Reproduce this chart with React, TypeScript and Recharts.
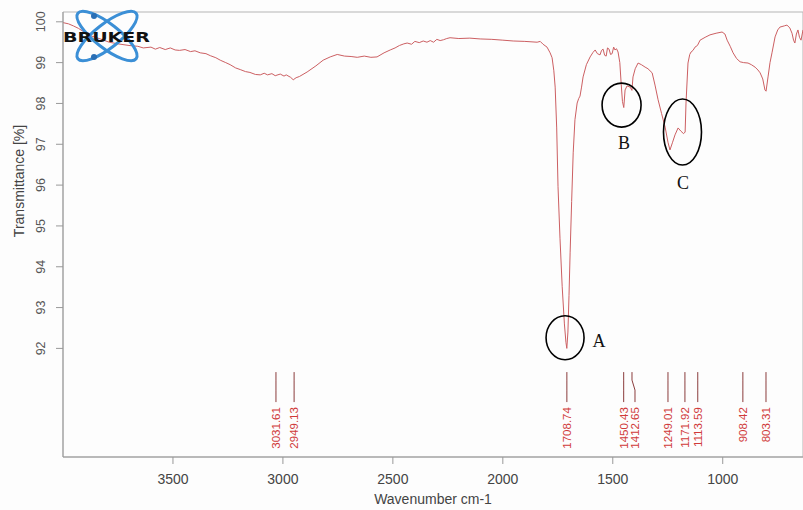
import React from 'react';
import { ComposedChart, Line, Scatter, XAxis, YAxis, ReferenceArea, ReferenceDot } from 'recharts';

// ---- data ----
const wavenumbers = [
  4000, 3975, 3953, 3930, 3907, 3870, 3830, 3790, 3750, 3700, 3660, 3635, 3600, 3580, 3560, 3535, 3512, 3490, 3470, 3445, 3420, 3400, 3376,
  3350, 3330, 3305, 3285, 3260, 3240, 3215, 3194, 3170, 3150, 3125, 3103, 3085, 3070, 3050, 3035, 3012, 2995, 2985, 2965, 2953, 2940, 2925, 2890, 2850, 2817, 2785, 2753, 2720,
  2690, 2662, 2630, 2600, 2572, 2540, 2512, 2490, 2470, 2450, 2435, 2415, 2400, 2380, 2362, 2345, 2330, 2315, 2300, 2285, 2270, 2255, 2240, 2200, 2150, 2103,
  2050, 2000, 1953, 1900, 1844, 1830, 1817, 1799, 1785, 1776, 1768, 1762, 1755, 1749, 1740, 1730, 1720, 1713, 1709,
  1704, 1699, 1694, 1687, 1680, 1672, 1662, 1655, 1649, 1642, 1635, 1620, 1603, 1590, 1580, 1570, 1558, 1551,
  1544, 1537, 1530, 1524, 1517, 1510, 1503, 1496, 1490, 1483, 1476, 1468, 1462, 1456, 1450, 1444, 1435, 1421,
  1413, 1408, 1398, 1385, 1370, 1353, 1340, 1321, 1308, 1294, 1278, 1262, 1249, 1240, 1228, 1217, 1203, 1190,
  1178, 1171, 1167, 1158, 1150, 1144, 1135, 1126, 1115, 1103, 1080, 1058, 1030, 1003, 990, 980, 966, 953, 937,
  921, 905, 885, 870, 853, 840, 830, 818, 808, 803, 794, 785, 776, 762, 750, 740, 720, 708, 695, 685, 678, 672,
  665, 658, 651, 644, 635,
];
const transmittance = [
  99.98, 99.95, 99.9, 99.84, 99.76, 99.65, 99.58, 99.5, 99.46, 99.42, 99.4, 99.36, 99.38, 99.33, 99.37, 99.32, 99.36, 99.31, 99.3, 99.32, 99.27, 99.29, 99.24,
  99.22, 99.17, 99.12, 99.06, 99.0, 98.95, 98.87, 98.83, 98.78, 98.76, 98.71, 98.7, 98.74, 98.7, 98.73, 98.68, 98.72, 98.67, 98.7, 98.64, 98.58, 98.63, 98.66, 98.77, 98.92, 99.06, 99.14, 99.2, 99.16,
  99.15, 99.13, 99.16, 99.13, 99.14, 99.24, 99.31, 99.36, 99.42, 99.46, 99.48, 99.45, 99.52, 99.49, 99.53, 99.5, 99.54, 99.5, 99.57, 99.54, 99.56, 99.59, 99.61, 99.59, 99.6, 99.58,
  99.57, 99.55, 99.53, 99.52, 99.5, 99.52, 99.45, 99.38, 99.24, 99.12, 98.8, 98.4, 97.4, 95.96, 94.7, 93.51, 92.6, 92.15, 92.0,
  92.4, 93.3, 94.34, 95.6, 96.79, 97.6, 98.01, 98.12, 98.18, 98.4, 98.65, 98.95, 99.14, 99.25, 99.31, 99.22, 99.19, 99.3,
  99.33, 99.18, 99.16, 99.36, 99.33, 99.2, 99.22, 99.38, 99.31, 99.34, 99.26, 99.0, 98.5, 98.05, 97.9, 98.33, 98.43, 98.4,
  98.32, 98.65, 98.85, 98.99, 98.95, 98.89, 98.85, 98.75, 98.45, 98.09, 97.75, 97.42, 97.05, 96.86, 97.05, 97.23, 97.4, 97.32,
  97.26, 97.3, 98.01, 98.99, 99.2, 99.26, 99.3, 99.38, 99.42, 99.55, 99.62, 99.68, 99.72, 99.75, 99.7, 99.55, 99.4, 99.24, 99.1,
  99.02, 99.0, 98.99, 98.95, 98.89, 98.82, 98.75, 98.6, 98.33, 98.3, 98.65, 99.0, 99.24, 99.63, 99.8, 99.87, 99.9, 99.92, 99.85, 99.72, 99.55, 99.48,
  99.7, 99.8, 99.62, 99.55, 99.8,
];

const peakPositions = [3031.61, 2949.13, 1708.74, 1450.43, 1412.65, 1249.01, 1171.92, 1113.59, 908.42, 803.31];
const peakLabels = ['3031.61', '2949.13', '1708.74', '1450.43', '1412.65', '1249.01', '1171.92', '1113.59', '908.42', '803.31'];
const PEAK_MARK_T = 91.42;

const xTicks = [3500, 3000, 2500, 2000, 1500, 1000];
const yTicks = [92, 93, 94, 95, 96, 97, 98, 99, 100];
const X_DOMAIN: [number, number] = [635, 4000];
const Y_DOMAIN: [number, number] = [89.34, 100.24];

const annotationLetters = ['A', 'B', 'C'];
const annotationWn = [1717, 1460, 1183];
const annotationT = [92.26, 97.96, 97.3];

// ---- derived tables ----
const spectrum = wavenumbers.map((wn, i) => ({ wn, t: transmittance[i] }));
const peaks = peakPositions.map((wn, i) => ({ wn, t: PEAK_MARK_T, label: peakLabels[i] }));

const SANS = '"Liberation Sans", Arial, Helvetica, sans-serif';
const SERIF = '"Liberation Serif", "Times New Roman", serif';

// label nudges for crowded peak labels (style only)
const labelNudge: Record<string, number> = { '1412.65': 3 };

const annotationStyle: Record<string, { rx: number; ry: number; dx: number; dy: number }> = {
  A: { rx: 19, ry: 22, dx: 34, dy: 3 },
  B: { rx: 19.5, ry: 22, dx: 2.5, dy: 38 },
  C: { rx: 19, ry: 33, dx: 0.5, dy: 51 },
};

const PeakMark = (props: any) => {
  const { cx, cy, payload } = props;
  if (cx == null || cy == null) return null;
  const nudge = labelNudge[payload.label] || 0;
  const lx = cx + nudge;
  const ty = cy + 35;
  return (
    <g>
      <polyline
        points={`${cx},${cy} ${cx},${cy + 8} ${lx},${cy + 18} ${lx},${cy + 30}`}
        fill="none"
        stroke="#8a3c3c"
        strokeWidth={1}
      />
      <text
        x={lx}
        y={ty}
        transform={`rotate(-90 ${lx} ${ty})`}
        textAnchor="end"
        dy="0.36em"
        fontSize={11.5}
        fill="#d03a3a"
        fontFamily={SANS}
      >
        {payload.label}
      </text>
    </g>
  );
};

const YTick = (props: any) => {
  const { x, y, payload } = props;
  return (
    <text
      x={x}
      y={y}
      transform={`rotate(-90 ${x} ${y})`}
      textAnchor="middle"
      fontSize={12.5}
      fill="#555"
      fontFamily={SANS}
    >
      {payload.value}
    </text>
  );
};

const makeAnnotation = (letter: string) => (props: any) => {
  const { cx, cy } = props;
  const s = annotationStyle[letter];
  if (cx == null || cy == null) return null;
  return (
    <g>
      <ellipse cx={cx} cy={cy} rx={s.rx} ry={s.ry} fill="none" stroke="#000" strokeWidth={1.6} />
      <text
        x={cx + s.dx}
        y={cy + s.dy}
        textAnchor="middle"
        dominantBaseline="central"
        fontSize={18}
        fill="#111"
        fontFamily={SERIF}
      >
        {letter}
      </text>
    </g>
  );
};

export default function App() {
  return (
    <div style={{ position: 'absolute', left: 0, top: 0, width: 803, height: 510, background: '#fdfdfd' }}>
      <ComposedChart
        width={803}
        height={510}
        data={spectrum}
        margin={{ top: 12, right: 0, bottom: 0, left: 0 }}
      >
        <ReferenceArea
          x1={X_DOMAIN[1]}
          x2={X_DOMAIN[0]}
          y1={Y_DOMAIN[0]}
          y2={Y_DOMAIN[1]}
          fill="none"
          stroke="#b5b5b5"
          strokeWidth={1}
          ifOverflow="visible"
        />
        <XAxis
          dataKey="wn"
          type="number"
          domain={X_DOMAIN}
          reversed
          allowDataOverflow
          ticks={xTicks}
          height={53}
          tickSize={7}
          tickMargin={10}
          stroke="#999"
          tick={{ fill: '#444', fontSize: 14, fontFamily: SANS }}
          label={{
            value: 'Wavenumber cm-1',
            position: 'insideBottom',
            offset: 6,
            fill: '#444',
            fontSize: 14,
            fontFamily: SANS,
          }}
        />
        <YAxis
          type="number"
          domain={Y_DOMAIN}
          allowDataOverflow
          ticks={yTicks}
          width={63}
          tickSize={7}
          tickMargin={11}
          stroke="#999"
          tick={<YTick />}
        />
        <Line
          dataKey="t"
          type="linear"
          stroke="#cc5f62"
          strokeWidth={1}
          dot={false}
          isAnimationActive={false}
        />
        <Scatter data={peaks} dataKey="t" shape={<PeakMark />} isAnimationActive={false} />
        {annotationLetters.map((letter, i) => (
          <ReferenceDot
            key={letter}
            x={annotationWn[i]}
            y={annotationT[i]}
            ifOverflow="visible"
            shape={makeAnnotation(letter)}
          />
        ))}
      </ComposedChart>
      <svg
        width={803}
        height={510}
        style={{ position: 'absolute', left: 0, top: 0, pointerEvents: 'none' }}
      >
        <text
          x={19}
          y={181}
          transform="rotate(-90 19 181)"
          textAnchor="middle"
          dominantBaseline="central"
          fontSize={14}
          fill="#444"
          fontFamily={SANS}
        >
          Transmittance [%]
        </text>
        <g>
          <ellipse cx={107} cy={36} rx={37} ry={12} fill="none" stroke="#3b8fd6" strokeWidth={3} transform="rotate(38 107 36)" />
          <ellipse cx={107} cy={36} rx={37} ry={12} fill="none" stroke="#3b8fd6" strokeWidth={3} transform="rotate(-38 107 36)" />
          <circle cx={94} cy={16} r={3} fill="#2a6fb5" />
          <circle cx={94} cy={57} r={3} fill="#2a6fb5" />
          <text
            x={63}
            y={42}
            textLength={87}
            lengthAdjust="spacingAndGlyphs"
            fontSize={14}
            fontWeight={900}
            fill="#111"
            fontFamily='"DejaVu Sans", Arial, sans-serif'
          >
            BRUKER
          </text>
        </g>
      </svg>
    </div>
  );
}
